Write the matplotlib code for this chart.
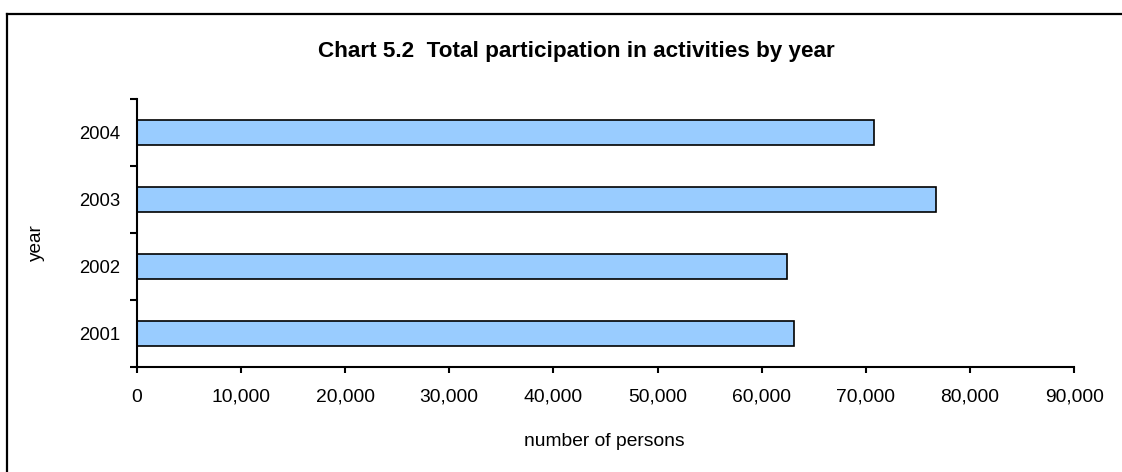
import matplotlib
matplotlib.use("Agg")
import matplotlib.pyplot as plt
from matplotlib.lines import Line2D
from matplotlib.ticker import FuncFormatter, FixedLocator

plt.rcParams['font.family'] = ['Liberation Sans', 'DejaVu Sans']

years = ["2001", "2002", "2003", "2004"]
persons = [63100, 62400, 76700, 70800]
x_ticks = [0, 10000, 20000, 30000, 40000, 50000, 60000, 70000, 80000, 90000]

W, H = 1122, 472
fig = plt.figure(figsize=(W / 100, H / 100), dpi=100)
fig.patch.set_facecolor("white")

ax = fig.add_axes([136.7 / W, 1 - 366.7 / H, (1074.3 - 136.7) / W, (366.7 - 99.3) / H])

ypos = list(range(len(years)))
ax.barh(ypos, persons, height=0.38, color="#99CCFF", edgecolor="black", linewidth=1.2)

ax.set_xlim(0, 90000)
ax.set_ylim(-0.5, len(years) - 0.5)
ax.set_xticks(x_ticks)
ax.xaxis.set_major_formatter(FuncFormatter(lambda v, p: f"{int(v):,}"))
ax.set_yticks(ypos)
ax.set_yticklabels(years)
ax.yaxis.set_minor_locator(FixedLocator([-0.5, 0.5, 1.5, 2.5, 3.5]))
ax.tick_params(axis="y", which="major", length=0, pad=12, labelsize=13.3)
ax.tick_params(axis="y", which="minor", length=5, width=1.5, direction="out")
ax.tick_params(axis="x", which="major", length=4, width=1.5, direction="out", pad=12, labelsize=13.9)

for s in ["top", "right"]:
    ax.spines[s].set_visible(False)
for s in ["left", "bottom"]:
    ax.spines[s].set_linewidth(1.5)

fig.text(576.5 / W, 1 - 52 / H, "Chart 5.2  Total participation in activities by year",
         ha="center", va="center", fontsize=16.2, fontweight="bold")
fig.text(604.5 / W, 1 - 442 / H, "number of persons", ha="center", va="center", fontsize=13.9)
fig.text(36 / W, 1 - 243 / H, "year", ha="center", va="center", fontsize=13.7, rotation=90)

fig.add_artist(Line2D([7 / W, 1.0], [1 - 14 / H, 1 - 14 / H], transform=fig.transFigure,
                      color="black", linewidth=1.6))
fig.add_artist(Line2D([7 / W, 7 / W], [1 - 14 / H, 0.0], transform=fig.transFigure,
                      color="black", linewidth=1.6))

fig.savefig("out.png", dpi=100, facecolor="white")
